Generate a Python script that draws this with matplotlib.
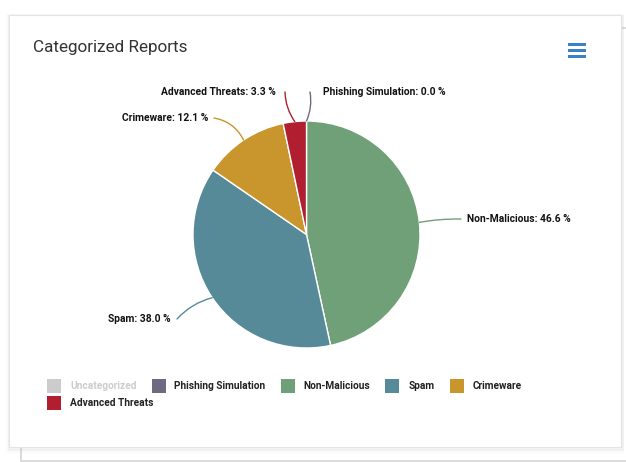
import matplotlib
matplotlib.use("Agg")
import matplotlib.pyplot as plt
from matplotlib.patches import Rectangle
import numpy as np

# series as shown in the legend (Uncategorized is switched off)
categories = ["Uncategorized", "Phishing Simulation", "Non-Malicious", "Spam", "Crimeware", "Advanced Threats"]
shares = [0.0, 0.0, 46.6, 38.0, 12.1, 3.3]
visible = [False, True, True, True, True, True]
colors = ["#cccccc", "#6e6a80", "#6fa077", "#568a99", "#c9952d", "#b01e2f"]

# label anchors (px), alignment
label_pos = {
    "Phishing Simulation": (323, 92, "left"),
    "Non-Malicious": (467, 219, "left"),
    "Spam": (171, 319, "right"),
    "Crimeware": (208, 118, "right"),
    "Advanced Threats": (276, 92, "right"),
}

FONT = ["Roboto", "DejaVu Sans"]

fig = plt.figure(figsize=(6.26, 4.62), dpi=100)
ax = fig.add_axes([0, 0, 1, 1])

cx, cy, R = 306.5, 234.5, 113.5
vals = [s for s, v in zip(shares, visible) if v]
cols = [c for c, v in zip(colors, visible) if v]
names = [n for n, v in zip(categories, visible) if v]

wedges, _ = ax.pie(vals, colors=cols, startangle=-90, counterclock=True,
                   center=(cx, cy), radius=R,
                   wedgeprops=dict(edgecolor="white", linewidth=1.0, zorder=5))

ax.set_xlim(0, 626)
ax.set_ylim(462, 0)
ax.set_aspect("equal")
ax.axis("off")

# cards + shadow
ax.add_patch(Rectangle((21, 28), 640, 433, facecolor="white", edgecolor="#d6d6d6", lw=1.2, zorder=0))
for i, a in enumerate([0.10, 0.07, 0.04]):
    ax.add_patch(Rectangle((9 - 0.5 * i, 15 + 0.5 * i), 612 + i, 432 + 1.5 * i,
                           facecolor="none", edgecolor="#888888", lw=1 + i, alpha=a, zorder=1))
ax.add_patch(Rectangle((9, 15), 612, 432, facecolor="white", edgecolor="#e4e4e4", lw=0.8, zorder=2))

ax.text(33, 47.5, "Categorized Reports", fontsize=12.3, color="#333333", family=FONT,
        ha="left", va="center", zorder=6)

# menu icon
for yy in (44, 50, 56):
    ax.add_patch(Rectangle((568, yy - 1.5), 18, 3, facecolor="#3b82c4", edgecolor="none", zorder=6))

# data labels with connectors
cum = 0.0
for n, s, c in zip(names, vals, cols):
    mid = (cum + s / 2) / 100.0 * 360.0
    cum += s
    th = np.deg2rad(mid)
    ex, ey = cx + R * np.sin(th), cy - R * np.cos(th)
    lx, ly, ha = label_pos[n]
    tx = lx - 6 if ha == "left" else lx + 6
    if n == "Phishing Simulation":
        tx = lx - 13
    elif n == "Advanced Threats":
        tx = lx + 9
    rad = 0.0
    if n == "Phishing Simulation":
        rad = -0.15
    elif n == "Crimeware":
        rad = -0.25
    elif n == "Advanced Threats":
        rad = 0.15
    elif n == "Spam":
        rad = -0.15
    elif n == "Non-Malicious":
        rad = 0.05
    ax.annotate("", xy=(ex, ey), xytext=(tx, ly), zorder=6,
                arrowprops=dict(arrowstyle="-", color=c, lw=1.0,
                                connectionstyle=f"arc3,rad={rad}", shrinkA=0, shrinkB=0))
    ax.text(lx, ly, f"{n}: {s:.1f} %", fontsize=7.4, fontweight="bold", color="#111111",
            family=FONT, ha=ha, va="center", zorder=7)

# legend laid out like a flowing html legend
fig.canvas.draw()
r = fig.canvas.get_renderer()
x0, xmax = 47, 600
x, y = x0, 386
for n, c, v in zip(categories, colors, visible):
    t = ax.text(0, 0, n, fontsize=7.3, fontweight="bold", family=FONT,
                color="#222222" if v else "#cccccc", ha="left", va="center", zorder=7)
    w = t.get_window_extent(r).width
    if x + 14 + 9 + w > xmax:
        x, y = x0, y + 17
    ax.add_patch(Rectangle((x, y - 7), 14, 14, facecolor=c, edgecolor="none", zorder=6))
    t.set_position((x + 23, y))
    x += 14 + 9 + w + 15

fig.savefig("out.png", dpi=100)
